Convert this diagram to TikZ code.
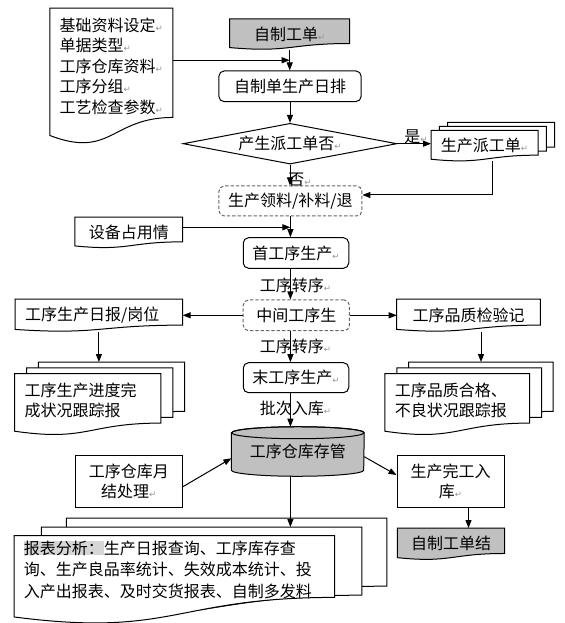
\documentclass[tikz,border=0pt]{standalone}
\usepackage{fontspec}
\setmainfont{Noto Sans CJK SC}
\newfontfamily\symfont{DejaVu Sans}
\usetikzlibrary{arrows.meta,calc,shapes.geometric,backgrounds}
\definecolor{wordgray}{RGB}{192,192,192}
\definecolor{hlgray}{RGB}{214,214,214}
\definecolor{markgray}{RGB}{150,150,150}
\newdimen\px \px=0.75pt
\newcommand{\retmark}{{\symfont\fontsize{6.5pt}{6.5pt}\selectfont\textcolor{markgray}{↵}}}
% document shape: offset, node, right end, control, left end (fractions of height)
\newcommand{\docpath}[5]{($(#2.north west)+(#1)$) -- ($(#2.north east)+(#1)$)
  -- ($(#2.north east)!#3!(#2.south east)+(#1)$)
  .. controls ($(#2.north)!#3!(#2.south)+(#1)$) and ($(#2.north)!#4!(#2.south)+(#1)$)
  .. ($(#2.north west)!#5!(#2.south west)+(#1)$) -- cycle}

\begin{document}
\begin{tikzpicture}[x=0.75pt, y=-0.75pt,
  every node/.append style={font=\fontsize{12pt}{15.3pt}\selectfont},
  arr/.style={-{Triangle[length=6pt,width=4.5pt]}, line width=0.75pt},
  line/.style={line width=0.75pt},
  roundbox/.style={draw, line width=0.75pt, rounded corners=4pt, inner sep=0pt},
  dashbox/.style={roundbox, draw=black!60, dash pattern=on 2.5pt off 1.5pt},
  plainbox/.style={draw, line width=0.75pt, inner sep=0pt, align=center},
  docnode/.style={inner xsep=7.2pt, inner ysep=0pt},
  docline/.style={draw, fill=white, line width=0.75pt},
  graydoc/.style={docline, fill=wordgray},
  tag/.style={inner sep=0pt}]
\useasboundingbox (0,0) rectangle (564,623);

% Top: basic data, order, daily plan
\node[docnode, minimum width=118.7\px, minimum height=135.9\px, align=left, text depth=16.2pt] (base) at (111.25,76.25)
  {基础资料设定\retmark\\单据类型\retmark\\工序仓库资料\retmark\\工序分组\retmark\\工艺检查参数\retmark};
\node[docnode, minimum width=119.5\px, minimum height=30.3\px] (order) at (289.7,34.2) {自制工单\retmark};
\node[roundbox, minimum width=142.3\px, minimum height=30.7\px] (plan) at (290,86.3) {自制单生产日排};
\node[diamond, aspect=5.25, draw, line width=0.75pt, inner sep=0pt, minimum width=213.8\px, minimum height=40.7\px] (ask) at (290,143.7) {产生派工单否\retmark};
\node[docnode, minimum width=103.7\px, minimum height=30.3\px] (ticket) at (484.5,145.85) {生产派工单\retmark};
\node[tag] (yes) at (416,136.7) {是\retmark};
\node[tag] (no) at (300,180) {否\retmark};
\node[dashbox, minimum width=143\px, minimum height=30\px] (mat) at (290.4,201) {生产领料/补料/退};

% Process steps
\node[docnode, minimum width=107.3\px, minimum height=30.4\px] (equip) at (128.75,232.5) {设备占用情};
\node[roundbox, minimum width=105.5\px, minimum height=30.6\px] (first) at (296,253) {首工序生产\retmark};
\node[tag] (turnA) at (295.4,285) {工序转序\retmark};
\node[dashbox, minimum width=106.2\px, minimum height=30.7\px] (mid) at (296.3,315.3) {中间工序生};
\node[docnode, minimum width=167\px, minimum height=32\px, text width=147.8\px, align=left] (daily) at (98.9,315.3) {工序生产日报/岗位};
\node[docnode, minimum width=143\px, minimum height=32\px] (quality) at (468.5,315.3) {工序品质检验记};
\node[docnode, minimum width=145.7\px, minimum height=61\px, text width=126.5\px, align=left, text depth=22.4pt] (prog) at (87.85,404.5)
  {工序生产进度完\\成状况跟踪报};
\node[docnode, minimum width=144.1\px, minimum height=61\px, text width=124.9\px, align=left, text depth=22.4pt] (qrep) at (457.2,404.5)
  {工序品质合格、\\不良状况跟踪报};
\node[tag] (turnB) at (295.4,346) {工序转序\retmark};
\node[roundbox, minimum width=105.5\px, minimum height=30\px] (last) at (296,377.7) {末工序生产\retmark};
\node[tag] (batch) at (295.4,408.3) {批次入库\retmark};

% Store and reports
\node[inner sep=0pt, minimum width=132.3\px, minimum height=49\px] (store) at (297.8,451.5) {工序仓库存管};
\node[plainbox, minimum width=107.3\px, minimum height=52.3\px] (monthly) at (128.75,481.2) {工序仓库月\\结处理\retmark};
\node[plainbox, minimum width=107.2\px, minimum height=52.3\px] (finish) at (450.6,481.2) {生产完工入\\库\retmark};
\node[docnode, minimum width=106.5\px, minimum height=31.2\px] (close) at (451,543.9) {自制工单结};
\node[docnode, minimum width=320\px, minimum height=86.7\px, text width=300.8\px, align=left, text depth=48pt,
  font=\fontsize{12pt}{16.3pt}\selectfont] (report) at (174.3,579.35)
  {{\setlength{\fboxsep}{0pt}\colorbox{hlgray}{报表分析：}}生产日报查询、工序库存查\\询、生产良品率统计、失效成本统计、投\\入产出报表、及时交货报表、自制多发料};

% Shapes behind the texts
\begin{scope}[on background layer]
\filldraw[docline] \docpath{0,0}{base}{0.802}{1.107}{0.934};
\filldraw[graydoc] \docpath{0,0}{order}{0.802}{1.107}{0.934};
\filldraw[docline] \docpath{16.5,-8}{ticket}{0.802}{1.107}{0.934};
\filldraw[docline] \docpath{8.3,-4}{ticket}{0.802}{1.107}{0.934};
\filldraw[docline] \docpath{0,0}{ticket}{0.802}{1.107}{0.934};
\filldraw[docline] \docpath{0,0}{equip}{0.802}{1.107}{0.934};
\filldraw[docline] \docpath{0,0}{daily}{0.802}{1.107}{0.934};
\filldraw[docline] \docpath{0,0}{quality}{0.802}{1.107}{0.934};
\filldraw[docline] \docpath{23.7,-11.7}{prog}{0.802}{1.107}{0.934};
\filldraw[docline] \docpath{12,-5.8}{prog}{0.802}{1.107}{0.934};
\filldraw[docline] \docpath{0,0}{prog}{0.802}{1.107}{0.934};
\filldraw[docline] \docpath{23.7,-11.7}{qrep}{0.802}{1.107}{0.934};
\filldraw[docline] \docpath{12,-5.8}{qrep}{0.802}{1.107}{0.934};
\filldraw[docline] \docpath{0,0}{qrep}{0.802}{1.107}{0.934};
\filldraw[graydoc] \docpath{0,0}{close}{0.802}{1.107}{0.934};
\filldraw[docline] \docpath{52.4,-17.7}{report}{0.781}{1.17}{0.931};
\filldraw[docline] \docpath{27.3,-8.7}{report}{0.781}{1.17}{0.931};
\filldraw[docline] \docpath{0,0}{report}{0.707}{1.17}{0.931};
% cylinder
\filldraw[graydoc] ($(store.north west)+(0,6)$) -- ($(store.south west)+(0,-6)$)
  arc[start angle=180, end angle=360, x radius=66.15\px, y radius=6\px]
  -- ($(store.north east)+(0,6)$)
  arc[start angle=0, end angle=180, x radius=66.15\px, y radius=6\px] -- cycle;
\draw[line] ($(store.north)+(0,6)$) ellipse [x radius=66.15\px, y radius=6\px];
\end{scope}

% Connectors
\coordinate (baseOut) at ($(base.east)+(0,-16)$);
\draw[arr] (baseOut) -- (baseOut -| order.south);
\draw[arr] (order.south) -- (order.south |- plan.north);
\draw[arr] (plan.south) -- (ask.north);
\draw[arr] (ask.east) -- (ask.east -| ticket.west);
\coordinate (tkOut) at ($(ticket.south)+(8.3,0)$);
\draw[arr] (tkOut) |- ($(mat.east)+(0,-6)$);
\draw[arr] (ask.south) -- (ask.south |- mat.north);
\coordinate (eqOut) at ($(equip.east)+(0,-5.2)$);
\draw[arr] (eqOut) -- (eqOut -| mat.south);
\draw[arr] (mat.south) -- (mat.south |- first.north);
\draw[arr] (mat.south |- first.south) -- (mat.south |- mid.north);
\draw[arr] (mid.west) -- (daily.east);
\draw[arr] (mid.east) -- (quality.west);
\draw[arr] (mat.south |- mid.south) -- (mat.south |- last.north);
\coordinate (progTop) at ($(prog.north)+(0,-11.7)$);
\draw[arr] (daily.south) -- (daily.south |- progTop);
\coordinate (qualOut) at ($(quality.south)+(12.5,0)$);
\draw[arr] (qualOut) -- (qualOut |- progTop);
\draw[arr] (mat.south |- last.south) -- (mat.south |- store.north);
\coordinate (monOut) at ($(monthly.east)+(0,5.5)$);
\coordinate (storeIn) at ($(store.west)+(0,6.8)$);
\draw[arr] (monOut) -- (storeIn);
\coordinate (storeOut) at ($(store.east)+(0,5.2)$);
\coordinate (finIn) at ($(finish.west)+(0,-6.2)$);
\draw[arr] (storeOut) -- (finIn);
\coordinate (finOut) at ($(finish.south)+(17.9,0)$);
\draw[arr] (finOut) -- (finOut |- close.north);
\coordinate (reportTop) at ($(report.north)+(0,-8.7)$);
\draw[arr] (mat.south |- store.south) -- (mat.south |- reportTop);
\end{tikzpicture}
\end{document}
